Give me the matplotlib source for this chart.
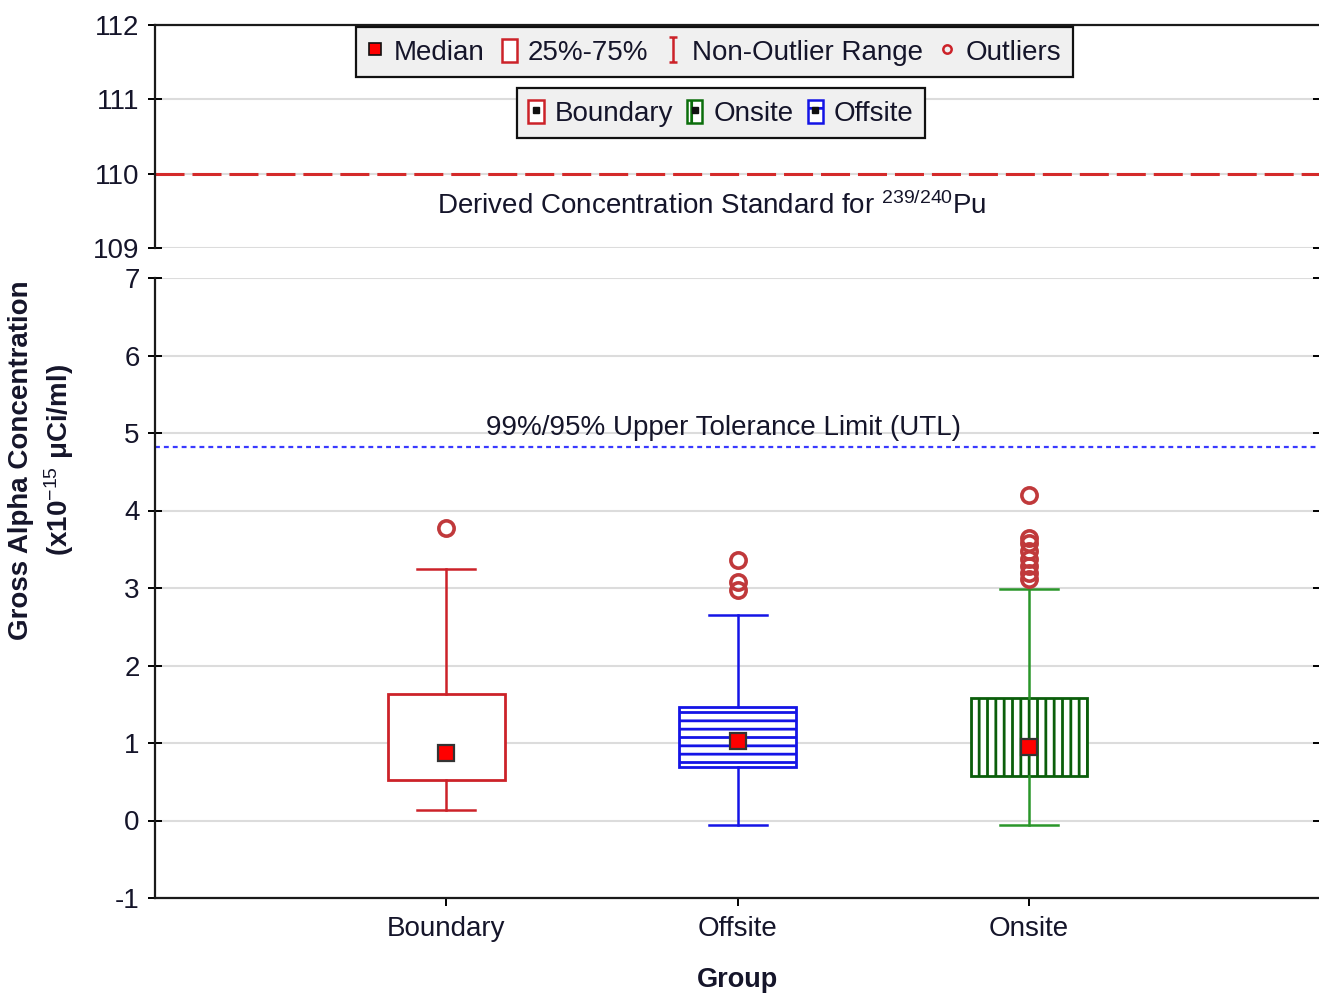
import matplotlib
matplotlib.use("Agg")
import matplotlib.pyplot as plt
from matplotlib.lines import Line2D
from matplotlib.patches import Patch
from matplotlib.path import Path
from matplotlib.legend_handler import HandlerTuple

# ---------------- data ----------------
categories = ['Boundary', 'Offsite', 'Onsite']
q1 = [0.52, 0.69, 0.575]
q3 = [1.63, 1.465, 1.58]
medians = [0.87, 1.03, 0.95]
whisker_low = [0.135, -0.06, -0.06]
whisker_high = [3.245, 2.65, 2.99]
outliers_boundary = [3.77]
outliers_offsite = [3.36, 3.08, 2.97]
outliers_onsite = [4.20, 3.64, 3.58, 3.48, 3.38, 3.28, 3.20, 3.12]
dcs_value = 110
utl_value = 4.82
upper_ticks = [109, 110, 111, 112]
lower_ticks = [-1, 0, 1, 2, 3, 4, 5, 6, 7]

outliers = [outliers_boundary, outliers_offsite, outliers_onsite]

# ---------------- style ----------------
plt.rcParams['font.family'] = ['Liberation Sans', 'DejaVu Sans']
plt.rcParams['mathtext.fontset'] = 'custom'
plt.rcParams['mathtext.rm'] = 'Liberation Sans'
plt.rcParams['mathtext.it'] = 'Liberation Sans:italic'
plt.rcParams['mathtext.bf'] = 'Liberation Sans:bold'
plt.rcParams['axes.unicode_minus'] = False
plt.rcParams['hatch.linewidth'] = 2.0
TXT = '#15152a'
FS = 20

box_edge = ['#cc2229', '#1414e6', '#0b5e0b']
whisk_col = ['#cc2229', '#1414e6', '#2a962a']
hatches = ['', '--', '||']
flier_col = '#c0393b'

fig = plt.figure(figsize=(13.19, 9.94), dpi=100)
W, H = 1319, 994
left = 155 / W
width = 1.0 - left + 0.001
ax_up = fig.add_axes([left, 1 - 248 / H, width, (248 - 25) / H])
ax_lo = fig.add_axes([left, 1 - 898 / H, width, (898 - 278) / H])

positions = [1, 2, 3]

# lower axes: boxes
for i, cat in enumerate(categories):
    stats = [dict(med=medians[i], q1=q1[i], q3=q3[i], whislo=whisker_low[i],
                  whishi=whisker_high[i], fliers=outliers[i], label=cat)]
    ax_lo.bxp(stats, positions=[positions[i]], widths=0.4, capwidths=0.2,
              patch_artist=True, manage_ticks=False,
              boxprops=dict(facecolor='white', edgecolor=box_edge[i],
                            hatch=hatches[i], linewidth=2),
              whiskerprops=dict(color=whisk_col[i], linewidth=1.8),
              capprops=dict(color=whisk_col[i], linewidth=1.8),
              medianprops=dict(linewidth=0),
              flierprops=dict(marker='o', markersize=11, markerfacecolor='none',
                              markeredgecolor=flier_col, markeredgewidth=2.6,
                              linestyle='none'),
              zorder=3)

ax_lo.plot(positions, medians, linestyle='none', marker='s', markersize=11,
           markerfacecolor='#ff0000', markeredgecolor='#333333',
           markeredgewidth=1.6, zorder=5)

ax_lo.axhline(utl_value, color='#3a3aff', linewidth=1.6, dashes=(2.2, 1.8), zorder=2)
ax_lo.text(1.95, utl_value + 0.24, '99%/95% Upper Tolerance Limit (UTL)',
           ha='center', va='center', fontsize=FS, color=TXT, zorder=4)

ax_lo.set_xlim(0, 4)
ax_lo.set_ylim(-1, 7)
ax_lo.set_yticks(lower_ticks)
ax_lo.set_xticks(positions)
ax_lo.set_xticklabels(categories)
ax_lo.grid(axis='y', color='#dcdcdc', linewidth=1.5, zorder=0)
ax_lo.set_axisbelow(True)
ax_lo.spines['top'].set_visible(False)
ax_lo.tick_params(axis='y', direction='inout', length=10, width=1.4, labelsize=FS,
                  labelcolor=TXT, right=True, pad=6)
ax_lo.tick_params(axis='x', direction='out', length=6, width=1.4, labelsize=FS,
                  labelcolor=TXT, pad=7)
ax_lo.set_xlabel('Group', fontsize=19.5, fontweight='bold', color=TXT, labelpad=18)

# upper axes
ax_up.axhline(dcs_value, color='#d42a2a', linewidth=2.2, dashes=(9.5, 2.6), zorder=2)
ax_up.text(1.91, dcs_value - 0.43,
           r'Derived Concentration Standard for $^{\mathrm{239/240}}$Pu',
           ha='center', va='center', fontsize=FS, color=TXT)
ax_up.set_xlim(0, 4)
ax_up.set_ylim(109, 112)
ax_up.set_yticks(upper_ticks)
ax_up.set_xticks([])
ax_up.grid(axis='y', color='#dcdcdc', linewidth=1.5, zorder=0)
ax_up.set_axisbelow(True)
ax_up.spines['bottom'].set_visible(False)
ax_up.tick_params(axis='y', direction='inout', length=10, width=1.4, labelsize=FS,
                  labelcolor=TXT, right=True, pad=6)
for ax in (ax_up, ax_lo):
    for s in ax.spines.values():
        s.set_linewidth(1.6)
        s.set_color('#1a1a1a')

# y label
fig.text(42 / W, 1 - 460 / H,
         'Gross Alpha Concentration\n(x10$^{\\mathrm{-15}}$ $\\mathbf{\\mu}$Ci/ml)',
         rotation=90, ha='center', va='center', multialignment='center',
         fontsize=FS, fontweight='bold', color=TXT, linespacing=1.3)

# legend 1
ibeam = Path([(-0.35, 1), (0.35, 1), (0, 1), (0, -1), (-0.35, -1), (0.35, -1)],
             [Path.MOVETO, Path.LINETO, Path.MOVETO, Path.LINETO, Path.MOVETO, Path.LINETO])
h_med = Line2D([], [], linestyle='none', marker='s', markersize=9,
               markerfacecolor='#ff0000', markeredgecolor='#111111', markeredgewidth=1.2)
h_box = Patch(facecolor='white', edgecolor='#cc2229', linewidth=1.8)
h_rng = Line2D([], [], linestyle='none', marker=ibeam, markersize=18,
               markerfacecolor='none', markeredgecolor='#cc2229', markeredgewidth=1.8)
h_out = Line2D([], [], linestyle='none', marker='o', markersize=6,
               markerfacecolor='none', markeredgecolor='#cc2229', markeredgewidth=1.8)
leg1 = fig.legend([h_med, h_box, h_rng, h_out],
                  ['Median', '25%-75%', 'Non-Outlier Range', 'Outliers'],
                  loc='upper center', bbox_to_anchor=(714.5 / W, 1 - 27 / H),
                  ncol=4, fontsize=FS, frameon=True, fancybox=False,
                  edgecolor='#111111', facecolor='#f0f0f0', framealpha=1,
                  handlelength=0.55, handleheight=0.9, handletextpad=0.4,
                  columnspacing=0.6, borderpad=0.42, borderaxespad=0)
leg1.get_frame().set_linewidth(1.6)
for t in leg1.get_texts():
    t.set_color(TXT)

# legend 2
def dot():
    return Line2D([], [], linestyle='none', marker='s', markersize=4,
                  markerfacecolor='#111111', markeredgecolor='#111111')

hb = (Patch(facecolor='white', edgecolor='#cc2229', linewidth=1.8), dot())
ho = (Patch(facecolor='white', edgecolor='#0b6e0b', hatch='|', linewidth=1.8), dot())
hf = (Patch(facecolor='white', edgecolor='#1414e6', hatch='-', linewidth=1.8), dot())
leg2 = fig.legend([hb, ho, hf], ['Boundary', 'Onsite', 'Offsite'],
                  handler_map={tuple: HandlerTuple(ndivide=1)},
                  loc='upper center', bbox_to_anchor=(721 / W, 1 - 88 / H),
                  ncol=3, fontsize=FS, frameon=True, fancybox=False,
                  edgecolor='#111111', facecolor='#f0f0f0', framealpha=1,
                  handlelength=0.55, handleheight=0.9, handletextpad=0.4,
                  columnspacing=0.5, borderpad=0.42, borderaxespad=0)
leg2.get_frame().set_linewidth(1.6)
for t in leg2.get_texts():
    t.set_color(TXT)

fig.savefig('out.png', dpi=100)
